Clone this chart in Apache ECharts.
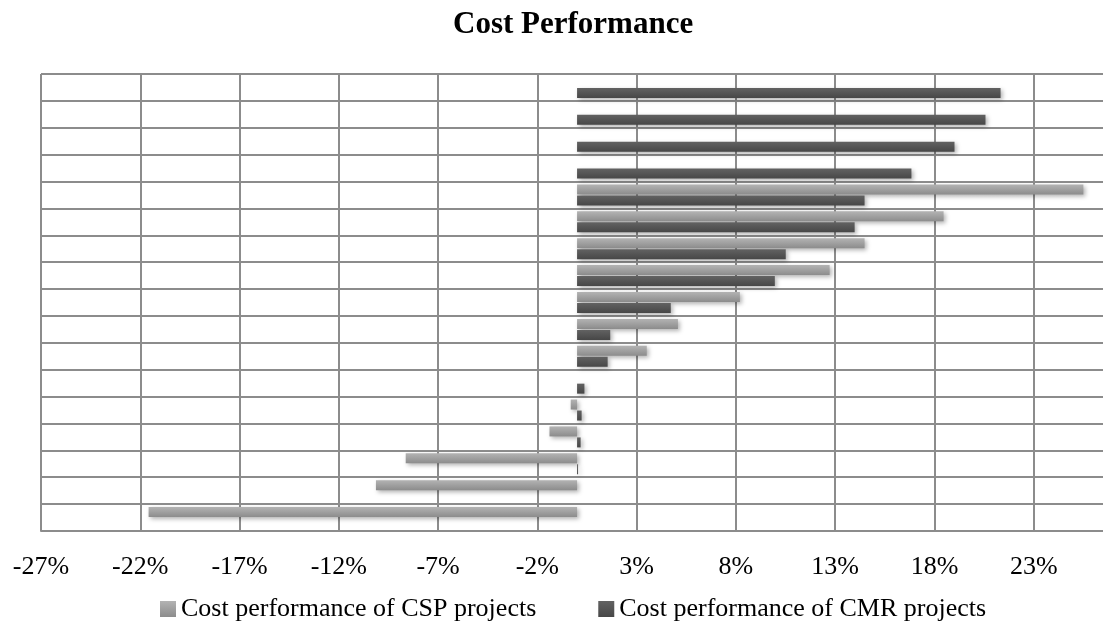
<!DOCTYPE html>
<html>
<head>
<meta charset="utf-8">
<title>Cost Performance</title>
<script src="https://cdn.jsdelivr.net/npm/echarts@6/dist/echarts.min.js"></script>
<style>
  html, body { margin: 0; padding: 0; background: #ffffff; }
  #chart { width: 1103px; height: 632px; }
</style>
</head>
<body>
<div id="chart"></div>
<script>
// Projects listed top to bottom
const categories = ['P1','P2','P3','P4','P5','P6','P7','P8','P9','P10','P11','P12','P13','P14','P15','P16','P17'];

// Cost performance (%) of CSP projects
const cspValues = [null, null, null, null, 25.5, 18.46, 14.48, 12.72, 8.2, 5.08, 3.51, null, -0.32, -1.39, -8.63, -10.13, -21.58];

// Cost performance (%) of CMR projects
const cmrValues = [21.33, 20.57, 19.01, 16.84, 14.48, 13.98, 10.51, 9.96, 4.72, 1.67, 1.54, 0.37, 0.23, 0.18, 0.05, null, null];

const seriesNames = ['Cost performance of CSP projects', 'Cost performance of CMR projects'];

// Value axis: ticks every 5 points starting at -27%
const axisMin = -27;
const axisMax = 28;
const axisStep = 5;

const serif = '"Liberation Serif", "Times New Roman", serif';
const gridColor = '#8c8c8c';
const gridWidth = 2;

function vGradient(top, bottom) {
  return new echarts.graphic.LinearGradient(0, 0, 0, 1, [
    { offset: 0, color: top },
    { offset: 1, color: bottom }
  ]);
}

const chart = echarts.init(document.getElementById('chart'), null, { renderer: 'canvas' });

chart.setOption({
  animation: false,
  backgroundColor: '#ffffff',
  title: {
    text: 'Cost Performance',
    left: 453,
    top: 9,
    padding: 0,
    textStyle: {
      fontFamily: serif,
      fontWeight: 'bold',
      fontSize: 31,
      color: '#000000'
    }
  },
  legend: {
    data: seriesNames,
    left: 160,
    top: 596,
    padding: 0,
    itemGap: 62,
    itemWidth: 16,
    itemHeight: 16,
    icon: 'rect',
    textStyle: {
      fontFamily: serif,
      fontSize: 26,
      color: '#000000'
    }
  },
  grid: {
    left: 41,
    right: -30,
    top: 74,
    bottom: 101,
    outerBoundsMode: 'none'
  },
  xAxis: {
    type: 'value',
    min: axisMin,
    max: axisMax,
    interval: axisStep,
    axisLine: { show: true, lineStyle: { color: gridColor, width: gridWidth } },
    axisTick: { show: false },
    axisLabel: {
      formatter: '{value}%',
      fontFamily: serif,
      fontSize: 26,
      color: '#000000',
      margin: 23
    },
    splitLine: { show: true, lineStyle: { color: gridColor, width: gridWidth } }
  },
  yAxis: {
    type: 'category',
    data: categories,
    inverse: true,
    axisLine: { show: false },
    axisTick: { show: false },
    axisLabel: { show: false },
    splitLine: { show: true, lineStyle: { color: gridColor, width: gridWidth } }
  },
  series: [
    {
      name: seriesNames[0],
      type: 'bar',
      data: cspValues,
      barWidth: 10,
      barGap: '10%',
      itemStyle: {
        color: vGradient('#b3b3b3', '#8c8c8c'),
        shadowBlur: 4,
        shadowOffsetX: 2,
        shadowOffsetY: 2,
        shadowColor: 'rgba(0,0,0,0.3)'
      }
    },
    {
      name: seriesNames[1],
      type: 'bar',
      data: cmrValues,
      barWidth: 10,
      barGap: '10%',
      itemStyle: {
        color: vGradient('#626262', '#474747'),
        shadowBlur: 4,
        shadowOffsetX: 2,
        shadowOffsetY: 2,
        shadowColor: 'rgba(0,0,0,0.3)'
      }
    }
  ]
});
</script>
</body>
</html>
